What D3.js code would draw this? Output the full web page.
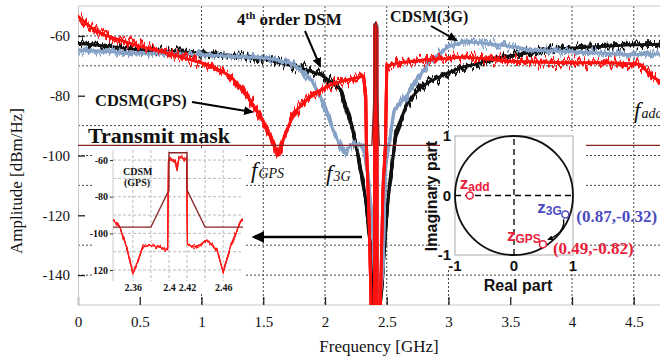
<!DOCTYPE html>
<html>
<head>
<meta charset="utf-8">
<script src="https://cdn.jsdelivr.net/npm/d3@7"></script>
<style>
  body { margin: 0; background: #fff; }
  svg { display: block; }
  text { font-family: "Liberation Serif", "Times New Roman", serif; fill: #111; }
  .sans { font-family: "Liberation Sans", Arial, sans-serif; }
</style>
</head>
<body>
<svg id="chart" width="660" height="362"></svg>
<script>
// ---- data ----
const freqTicks = [0, 0.5, 1, 1.5, 2, 2.5, 3, 3.5, 4, 4.5];
const freqLabels = ["0", "0.5", "1", "1.5", "2", "2.5", "3", "3.5", "4", "4.5"];
const ampTicks = [-140, -120, -100, -80, -60];
const gridFreq = [1, 1.5, 2, 2.5, 3, 4, 4.5];
const gridAmp = [-60, -70, -90, -100, -110, -130, -140];

// 4th order DSM (black)
const dsmFreq = [0, 0.25, 0.5, 0.75, 1.0, 1.25, 1.54, 1.8, 1.97, 2.05, 2.13, 2.21, 2.275, 2.33, 2.37, 2.385,
  2.405, 2.409, 2.414, 2.418, 2.44, 2.51, 2.575, 2.67, 2.78, 2.86, 3.0, 3.13, 3.26, 3.4, 3.6, 3.8, 4.1, 4.48, 4.75];
const dsmDb = [-62.5, -63.5, -64.7, -65.2, -65.7, -66.5, -68, -70.7, -73, -75.5, -78, -89, -101, -115, -131, -155,
  -155, -57, -57, -155, -155, -115, -92, -82, -77, -75, -72.3, -70.3, -69, -67.3, -66, -64.7, -63.8, -63, -62.8];

// CDSM 3G (blue-grey)
const cdsm3gFreq = [0, 0.46, 1.0, 1.54, 1.72, 1.8, 1.89, 1.97, 2.07, 2.15, 2.23, 2.31, 2.35, 2.39, 2.412,
  2.416, 2.422, 2.426, 2.47, 2.49, 2.56, 2.67, 2.72, 2.78, 2.86, 3.0, 3.13, 3.26, 3.53, 3.67, 4.0, 4.48, 4.75];
const cdsm3gDb = [-64.7, -65.7, -66.3, -67.5, -69, -71.3, -74.7, -81, -92, -99, -96, -97, -107, -126, -155,
  -57, -57, -155, -137, -104, -85, -79.5, -76, -72.5, -68, -63.6, -62, -62.3, -63.6, -64.7, -65.3, -66.3, -66];

// CDSM GPS (red)
const cdsmGpsFreq = [0, 0.1, 0.2, 0.35, 0.5, 0.7, 0.85, 1.0, 1.1, 1.24, 1.37, 1.48, 1.56, 1.62, 1.67, 1.75,
  1.86, 1.97, 2.05, 2.15, 2.31, 2.33, 2.335, 2.36, 2.375, 2.4, 2.402, 2.419, 2.421, 2.445, 2.47, 2.49, 2.5,
  2.6, 2.8, 3.0, 3.13, 3.5, 3.94, 4.3, 4.55, 4.61, 4.64, 4.75];
const cdsmGpsDb = [-53.5, -57, -59.5, -61.5, -63.5, -65.5, -67.3, -69, -70.5, -73.6, -80, -87, -93.6, -100, -93.6, -85.7,
  -81, -78, -76.3, -75, -73.5, -80, -96, -125, -155, -155, -57, -57, -155, -155, -110, -96, -70,
  -69, -68, -67.5, -67, -68.5, -69, -69, -69.5, -72, -73.5, -76];

// transmit mask
const maskFreq = [0, 2.38, 2.4, 2.4, 2.42, 2.42, 2.44, 5];
const maskDb = [-96.6, -96.6, -76.4, -56, -56, -76.4, -96.6, -96.6];

// zoomed inset (CDSM GPS around the band)
const insetFreq = [2.338, 2.346, 2.353, 2.36, 2.366, 2.371, 2.379, 2.39, 2.3985, 2.3995, 2.401, 2.404, 2.407,
  2.409, 2.411, 2.414, 2.417, 2.4195, 2.4205, 2.427, 2.435, 2.442, 2.453, 2.46, 2.468, 2.479, 2.482];
const insetDb = [-92.8, -97, -107.5, -121.7, -114.6, -107.5, -106.5, -107.5, -109, -60, -58.5, -60, -61,
  -66, -59, -58.5, -60, -59, -106, -107.5, -106, -103.7, -109, -121, -107.5, -94, -92];
const insetFreqTicks = [2.36, 2.4, 2.42, 2.46];
const insetFreqLabels = ["2.36", "2.4", "2.42", "2.46"];
const insetAmpTicks = [-60, -80, -100, -120];
const insetAmpLabels = ["-60", "-80", "-100", "120"];
const insetGridFreq = [2.36, 2.38, 2.4, 2.42, 2.44, 2.46];
const insetGridAmp = [-60, -70, -80, -90, -100, -110, -120];

// NTF zeros in the z-plane
const zeroNames = ["add", "3G", "GPS"];
const zeroRe = [-0.75, 0.87, 0.49];
const zeroIm = [0, -0.32, -0.82];
const zTicks = [-1, 0, 1];

// ---- chart ----
const W = 660, H = 362;
const svg = d3.select("#chart");
const defs = svg.append("defs");

const x = d3.scaleLinear().domain([0, 5]).range([78, 695.5]);
const y = d3.scaleLinear().domain([-150, -50]).range([305, 6]);

defs.append("clipPath").attr("id", "plotClip")
  .append("rect").attr("x", 78).attr("y", 6).attr("width", W - 78).attr("height", 299);

// roughens the traces so they look like a measured spectrum:
// two vertically jittered copies merged with the clean stroke
function noiseFilter(id, seed, amp) {
  const f = defs.append("filter").attr("id", id)
    .attr("filterUnits", "userSpaceOnUse")
    .attr("x", 0).attr("y", 0).attr("width", W).attr("height", H)
    .attr("color-interpolation-filters", "sRGB");
  [0, 1].forEach(k => {
    f.append("feTurbulence").attr("type", "fractalNoise").attr("baseFrequency", k ? "0.42 0.015" : "0.27 0.02")
      .attr("numOctaves", 2).attr("seed", seed + k * 17).attr("result", "n" + k);
    f.append("feColorMatrix").attr("in", "n" + k).attr("type", "matrix")
      .attr("values", "0 0 0 0 0.5 0 1 0 0 0 0 0 1 0 0 0 0 0 0 1").attr("result", "m" + k);
    f.append("feDisplacementMap").attr("in", "SourceGraphic").attr("in2", "m" + k)
      .attr("scale", amp).attr("xChannelSelector", "R").attr("yChannelSelector", "G").attr("result", "d" + k);
  });
  const mg = f.append("feMerge");
  mg.append("feMergeNode").attr("in", "SourceGraphic");
  mg.append("feMergeNode").attr("in", "d0");
  mg.append("feMergeNode").attr("in", "d1");
}
noiseFilter("noiseK", 3, 19);
noiseFilter("noiseB", 11, 18);
noiseFilter("noiseR", 7, 23);
noiseFilter("noiseI", 5, 10);

function arrowMarker(id, w) {
  defs.append("marker").attr("id", id)
    .attr("viewBox", "0 0 10 10").attr("refX", 8).attr("refY", 5)
    .attr("markerWidth", w).attr("markerHeight", w).attr("orient", "auto")
    .append("path").attr("d", "M0,0.5 L10,5 L0,9.5 z").attr("fill", "#000");
}
arrowMarker("arr", 5);
arrowMarker("arrBig", 5);
arrowMarker("arrSmall", 4);

// grid
const grid = svg.append("g").attr("stroke", "#444").attr("stroke-width", 1).attr("stroke-dasharray", "2,2");
grid.selectAll(".gx").data(gridFreq).join("line").attr("class", "gx")
  .attr("x1", d => x(d)).attr("x2", d => x(d)).attr("y1", 6).attr("y2", 305);
grid.selectAll(".gy").data(gridAmp).join("line").attr("class", "gy")
  .attr("x1", 78).attr("x2", W).attr("y1", d => y(d)).attr("y2", d => y(d));

svg.append("line").attr("x1", 78).attr("x2", W).attr("y1", 6).attr("y2", 6).attr("stroke", "#c8c8c8");

// axes
const xAxis = svg.append("g").attr("transform", "translate(0,305)")
  .call(d3.axisBottom(x).tickValues(freqTicks).tickFormat((d, i) => freqLabels[i])
    .tickSizeInner(-8).tickSizeOuter(0).tickPadding(11));
const yAxis = svg.append("g").attr("transform", "translate(78,0)")
  .call(d3.axisLeft(y).tickValues(ampTicks).tickFormat(d => String(d))
    .tickSizeInner(-7).tickSizeOuter(0).tickPadding(8));
[xAxis, yAxis].forEach(a => {
  a.select(".domain").attr("stroke", "#c8c8c8");
  a.selectAll(".tick line").attr("stroke", "#222").attr("stroke-width", 1.3);
  a.selectAll("text").attr("font-family", "Liberation Serif, serif").attr("font-size", 15).attr("fill", "#222");
});
xAxis.select(".domain").attr("d", "M78,0H" + W);

svg.append("text").attr("transform", "translate(22,181) rotate(-90)")
  .attr("text-anchor", "middle").attr("font-size", 17).text("Amplitude [dBm/Hz]");
svg.append("text").attr("x", 379).attr("y", 352).attr("text-anchor", "middle")
  .attr("font-size", 17).text("Frequency [GHz]");

// traces
const line = d3.line().x(d => x(d[0])).y(d => y(d[1]));
const plot = svg.append("g").attr("clip-path", "url(#plotClip)");
const traces = [
  { f: dsmFreq, v: dsmDb, color: "#111111", filter: "noiseK" },
  { f: cdsm3gFreq, v: cdsm3gDb, color: "#86a2c6", filter: "noiseB" },
  { f: cdsmGpsFreq, v: cdsmGpsDb, color: "#ff1010", filter: "noiseR" }
];
traces.forEach(t => {
  plot.append("g").attr("filter", "url(#" + t.filter + ")")
    .append("path").datum(d3.zip(t.f, t.v)).attr("d", line)
    .attr("fill", "none").attr("stroke", t.color).attr("stroke-width", 2.9)
    .attr("stroke-linejoin", "round");
});
plot.append("path").datum(d3.zip(maskFreq, maskDb)).attr("d", line)
  .attr("fill", "none").attr("stroke", "#8c2323").attr("stroke-width", 1.4);

// ---- left inset: zoom on the GPS band ----
svg.append("rect").attr("x", 92).attr("y", 149).attr("width", 154).attr("height", 144).attr("fill", "#fff");
const ix = d3.scaleLinear().domain([2.338, 2.482]).range([113, 243]);
const iy = d3.scaleLinear().domain([-126, -54.5]).range([281, 150]);
defs.append("clipPath").attr("id", "insetClip")
  .append("rect").attr("x", 113).attr("y", 150).attr("width", 130).attr("height", 131);
const ig = svg.append("g").attr("stroke", "#bbb").attr("stroke-dasharray", "3,2");
ig.selectAll(".ix").data(insetGridFreq).join("line")
  .attr("x1", d => ix(d)).attr("x2", d => ix(d)).attr("y1", 150).attr("y2", 281);
ig.selectAll(".iy").data(insetGridAmp).join("line")
  .attr("x1", 113).attr("x2", 243).attr("y1", d => iy(d)).attr("y2", d => iy(d));
svg.append("line").attr("x1", 113).attr("x2", 113).attr("y1", 150).attr("y2", 281).attr("stroke", "#ccc");
const iyAxis = svg.append("g").attr("transform", "translate(113,0)")
  .call(d3.axisLeft(iy).tickValues(insetAmpTicks).tickFormat((d, i) => insetAmpLabels[i])
    .tickSizeInner(3).tickSizeOuter(0).tickPadding(2));
const ixAxis = svg.append("g").attr("transform", "translate(0,281)")
  .call(d3.axisBottom(ix).tickValues(insetFreqTicks).tickFormat((d, i) => insetFreqLabels[i])
    .tickSize(0).tickPadding(3));
[iyAxis, ixAxis].forEach(a => {
  a.select(".domain").remove();
  a.selectAll(".tick line").attr("stroke", "#333");
  a.selectAll("text").attr("font-family", "Liberation Serif, serif").attr("font-weight", "bold")
    .attr("font-size", 10).attr("fill", "#222");
});
const iline = d3.line().x(d => ix(d[0])).y(d => iy(d[1]));
const ip = svg.append("g").attr("clip-path", "url(#insetClip)");
ip.append("g").attr("filter", "url(#noiseI)")
  .append("path").datum(d3.zip(insetFreq, insetDb)).attr("d", iline)
  .attr("fill", "none").attr("stroke", "#ff1a1a").attr("stroke-width", 1.2);
ip.append("path").datum(d3.zip(maskFreq, maskDb)).attr("d", iline)
  .attr("fill", "none").attr("stroke", "#8c2323").attr("stroke-width", 1.3);
svg.append("text").attr("x", 123).attr("y", 175).attr("font-size", 10).attr("font-weight", "bold").text("CDSM");
svg.append("text").attr("x", 124).attr("y", 186).attr("font-size", 10).attr("font-weight", "bold").text("(GPS)");

// ---- right inset: z-plane ----
svg.append("rect").attr("x", 440).attr("y", 131).attr("width", 146).attr("height", 137).attr("fill", "#fff");
const zx = d3.scaleLinear().domain([-1, 1]).range([455, 573]);
const zy = d3.scaleLinear().domain([-1, 1]).range([255, 136]);
svg.append("rect").attr("x", zx(-1)).attr("y", zy(1)).attr("width", zx(1) - zx(-1)).attr("height", zy(-1) - zy(1))
  .attr("fill", "none").attr("stroke", "#aaa");
svg.append("line").attr("x1", zx(-1)).attr("x2", zx(1)).attr("y1", zy(0)).attr("y2", zy(0))
  .attr("stroke", "#000").attr("stroke-width", 1.3).attr("stroke-dasharray", "6,4");
svg.append("line").attr("x1", zx(0)).attr("x2", zx(0)).attr("y1", zy(-1)).attr("y2", zy(1))
  .attr("stroke", "#000").attr("stroke-width", 1.3).attr("stroke-dasharray", "6,4");
svg.append("ellipse").attr("cx", zx(0)).attr("cy", zy(0)).attr("rx", zx(1) - zx(0)).attr("ry", zy(-1) - zy(0))
  .attr("fill", "none").attr("stroke", "#111").attr("stroke-width", 1.8);
svg.selectAll(".zty").data(zTicks).join("text").attr("class", "sans")
  .attr("x", zx(-1) - 4).attr("y", d => zy(d) + 5).attr("text-anchor", "end")
  .attr("font-size", 15).attr("font-weight", "bold").text(d => String(d));
svg.selectAll(".ztx").data(zTicks).join("text").attr("class", "sans")
  .attr("x", d => zx(d)).attr("y", 271).attr("text-anchor", "middle")
  .attr("font-size", 15).attr("font-weight", "bold").text(d => String(d));
svg.append("text").attr("class", "sans").attr("x", 518).attr("y", 291).attr("text-anchor", "middle")
  .attr("font-size", 16).attr("font-weight", "bold").text("Real part");
svg.append("text").attr("class", "sans").attr("transform", "translate(437,196) rotate(-90)")
  .attr("text-anchor", "middle").attr("font-size", 16).attr("font-weight", "bold").text("Imaginary part");

const zColor = ["#e8203c", "#4b4bbf", "#e8203c"];
const zLabelOff = [[-10, -7], [-28, -2], [-36, -3]];
const zCoordOff = [null, [11, 7], [10, 10]];
zeroNames.forEach((name, i) => {
  const cx = zx(zeroRe[i]), cy = zy(zeroIm[i]);
  svg.append("circle").attr("cx", cx).attr("cy", cy).attr("r", 3.5)
    .attr("fill", "#fff").attr("stroke", zColor[i]).attr("stroke-width", 1.5);
  const t = svg.append("text").attr("class", "sans").attr("x", cx + zLabelOff[i][0]).attr("y", cy + zLabelOff[i][1])
    .attr("font-weight", "bold").style("fill", zColor[i]);
  t.append("tspan").attr("font-size", 17).text("z");
  t.append("tspan").attr("font-size", 12).attr("dy", 2).text(name);
  if (zCoordOff[i]) {
    svg.append("text").attr("x", cx + zCoordOff[i][0]).attr("y", cy + zCoordOff[i][1])
      .attr("font-size", 17).attr("font-weight", "bold").style("fill", zColor[i])
      .text("(" + zeroRe[i] + "," + zeroIm[i] + ")");
  }
});
svg.append("path").attr("d", `M${zx(0.84)},${zy(-0.4)} Q${zx(0.87)},${zy(-0.62)} ${zx(0.58)},${zy(-0.74)}`)
  .attr("fill", "none").attr("stroke", "#000").attr("stroke-width", 1.4).attr("marker-end", "url(#arrSmall)");

// ---- annotations on the main plot ----
const bold = (tx, ty, size) => svg.append("text").attr("x", tx).attr("y", ty)
  .attr("font-size", size).attr("font-weight", "bold");
const t4 = bold(237, 25, 17);
t4.append("tspan").text("4");
t4.append("tspan").attr("font-size", 11).attr("dy", -6).text("th");
t4.append("tspan").attr("dy", 6).text(" order DSM");
bold(390, 22, 16).text("CDSM(3G)");
bold(95, 106, 16.5).text("CDSM(GPS)");
bold(88, 143, 22).text("Transmit mask");

const arrow = (x1, y1, x2, y2, w, m) => svg.append("line")
  .attr("x1", x1).attr("y1", y1).attr("x2", x2).attr("y2", y2)
  .attr("stroke", "#000").attr("stroke-width", w).attr("marker-end", "url(#" + m + ")");
arrow(305, 31, 320, 66, 2, "arr");
arrow(431, 26, 456, 40, 2, "arr");
arrow(192, 102, 252, 112, 2, "arr");
arrow(362, 237, 254, 237, 2.6, "arrBig");

const fLabel = (tx, ty, sub) => {
  const t = svg.append("text").attr("x", tx).attr("y", ty).attr("font-style", "italic");
  t.append("tspan").attr("font-size", 23).text("f");
  t.append("tspan").attr("font-size", 14).attr("dx", 1).text(sub);
};
fLabel(251, 178, "GPS");
fLabel(326, 181, "3G");
fLabel(634, 118, "add");
</script>
</body>
</html>
